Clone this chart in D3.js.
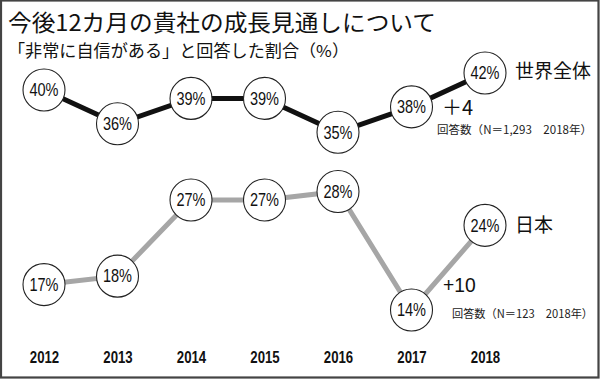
<!DOCTYPE html>
<html><head><meta charset="utf-8">
<script src="https://cdn.jsdelivr.net/npm/d3@7"></script>
<style>body{margin:0;background:#fff}svg{display:block}</style>
</head><body>
<svg id="c" width="600" height="379"></svg>
<script>
const years = ["2012","2013","2014","2015","2016","2017","2018"];
const worldValues = [40,36,39,39,35,38,42];
const japanValues = [17,18,27,27,28,14,24];
const titleText = "今後12カ月の貴社の成長見通しについて";
const subtitleText = "「非常に自信がある」と回答した割合（%）";
const worldLabel = "世界全体", japanLabel = "日本";
const worldDiff = "＋4", japanDiff = "+10";
const worldN = "回答数（N＝1,293　2018年）", japanN = "回答数（N＝123　2018年）";

const svg = d3.select("#c");
const JP = "'Noto Sans CJK JP', sans-serif";
const NUM = "'Liberation Sans', Arial, sans-serif";

svg.append("rect").attr("x",1).attr("y",0.5).attr("width",597.5).attr("height",377)
  .attr("fill","#fff").attr("stroke","#444").attr("stroke-width",2.2);

const x = d3.scalePoint().domain(years).range([44,485]);
const y = d3.scaleLinear().domain([14,42]).range([310,73]);

svg.append("text").attr("x",8).attr("y",31).attr("font-family",JP).attr("font-size",23)
  .attr("fill","#111").attr("textLength",428).attr("lengthAdjust","spacingAndGlyphs").text(titleText);
svg.append("text").attr("x",8).attr("y",57).attr("font-family",JP).attr("font-size",16.5)
  .attr("fill","#111").attr("textLength",341).attr("lengthAdjust","spacingAndGlyphs").text(subtitleText);

// x axis labels
const xAxis = d3.axisBottom(x).tickSize(0).tickPadding(0);
const ag = svg.append("g").attr("transform","translate(0,363)").call(xAxis);
ag.select(".domain").remove();
ag.selectAll(".tick text").attr("font-family",NUM).attr("font-size",16.5).attr("font-weight","bold")
  .attr("fill","#111").attr("y",0).attr("dy",0).attr("transform","scale(0.8,1)");

const line = d3.line().x((d,i)=>x(years[i])).y(d=>y(d));
function series(vals, color){
  svg.append("path").datum(vals).attr("d",line).attr("fill","none")
    .attr("stroke",color).attr("stroke-width",5);
  const g = svg.append("g").selectAll("g").data(vals).join("g")
    .attr("transform",(d,i)=>`translate(${x(years[i])},${y(d)})`);
  g.append("circle").attr("r",21).attr("fill","#fff").attr("stroke","#222").attr("stroke-width",1.1);
  g.append("text").attr("text-anchor","middle").attr("y",6.3).attr("font-family",NUM)
    .attr("font-size",17.5).attr("fill","#111").attr("transform","scale(0.83,1)").text(d=>d+"%");
}
series(worldValues,"#111");
series(japanValues,"#a6a6a6");

svg.append("text").attr("x",515).attr("y",78).attr("font-family",JP).attr("font-size",19)
  .attr("fill","#111").text(worldLabel);
svg.append("text").attr("x",515).attr("y",232).attr("font-family",JP).attr("font-size",19)
  .attr("fill","#111").text(japanLabel);
svg.append("text").attr("x",442).attr("y",115).attr("font-family",JP).attr("font-size",20)
  .attr("fill","#111").text(worldDiff);
svg.append("text").attr("transform","translate(443,292) scale(0.92,1)").attr("font-family",NUM).attr("font-size",21)
  .attr("fill","#111").text(japanDiff);
svg.append("text").attr("x",437).attr("y",133.5).attr("font-family",JP).attr("font-size",11.5)
  .attr("fill","#222").attr("textLength",155).attr("lengthAdjust","spacingAndGlyphs").text(worldN);
svg.append("text").attr("x",452).attr("y",317.5).attr("font-family",JP).attr("font-size",11.5)
  .attr("fill","#222").attr("textLength",141).attr("lengthAdjust","spacingAndGlyphs").text(japanN);
</script>
</body></html>
